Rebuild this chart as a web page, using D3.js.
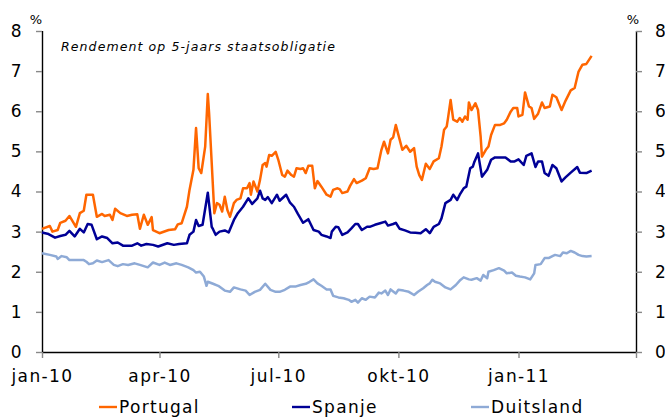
<!DOCTYPE html>
<html lang="nl">
<head>
<meta charset="utf-8">
<title>Rendement op 5-jaars staatsobligatie</title>
<script src="https://d3js.org/d3.v7.min.js"></script>
<style>
  body { margin: 0; background: #fff; }
  svg text { font-family: "DejaVu Sans", Verdana, sans-serif; fill: #000; }
  .tick text { font-size: 17px; letter-spacing: 1.4px; }
  .legend text { font-size: 17px; letter-spacing: 1.3px; }
</style>
</head>
<body>
<svg id="chart" width="665" height="418"></svg>
<script>
// dagen sinds 1 jan 2010, rendement in %
var portugalDag = [0,6,8,12,14,18,21,26,29,32,34,39,42,46,48,52,54,56,60,65,69,73,75,78,81,84,85,90,97,102,104,107,111,113,116,118,120,122,125,127,128,130,132,134,136,138,140,142,144,147,149,152,154,157,159,160,162,165,167,169,171,172,174,176,179,181,184,186,188,191,193,195,198,200,202,204,207,209,211,214,218,221,223,226,228,230,234,236,239,241,245,248,251,254,257,260,262,265,267,269,271,273,276,279,282,285,287,289,291,294,297,300,304,306,308,310,311,313,315,318,320,322,324,326,327,329,332,334,336,337,340,342,344,347,351,354,356,359,361,364,365,368,370,373,375,377,380,383,385,389,391,394,398,401,405,408,411,414,417,421];
var portugalRente = [3.07,3.14,3.0,3.04,3.22,3.27,3.39,3.12,3.46,3.52,3.92,3.92,3.37,3.44,3.39,3.42,3.29,3.57,3.46,3.39,3.42,3.43,3.07,3.42,3.17,3.36,3.04,2.96,3.04,3.06,3.18,3.21,3.62,4.04,4.54,5.58,4.58,4.46,5.12,6.43,5.95,4.71,3.46,3.71,3.67,3.5,3.87,3.54,3.37,3.71,3.79,3.83,4.08,4.08,4.21,3.92,4.25,4.0,4.29,4.66,4.71,4.62,4.91,4.89,4.99,4.79,4.41,4.37,4.52,4.41,4.37,4.58,4.56,4.58,4.46,4.64,4.64,4.08,4.26,4.12,3.92,3.87,4.04,4.08,4.06,3.96,4.0,4.14,4.31,4.21,4.27,4.33,4.58,4.56,4.58,5.04,5.24,4.95,5.29,5.35,5.66,5.41,5.04,5.14,4.99,5.08,4.62,4.41,4.29,4.69,4.56,4.75,4.83,5.12,5.54,5.62,5.83,6.28,5.79,5.74,5.83,5.74,5.87,5.79,6.22,6.03,6.2,6.03,5.37,4.87,5.04,5.12,5.41,5.66,5.66,5.7,5.79,5.99,6.08,6.08,5.87,5.91,6.47,6.12,6.08,5.81,5.94,6.22,6.08,6.12,6.41,6.35,6.03,6.26,6.52,6.58,6.99,7.16,7.18,7.38];

var spanjeDag = [0,5,10,14,18,21,25,29,32,35,38,42,46,50,54,58,62,69,73,76,80,85,89,96,101,105,111,113,116,118,120,123,127,130,131,133,136,140,143,147,150,154,158,161,165,167,169,171,173,176,180,182,187,190,193,196,200,204,208,212,214,218,221,222,225,227,230,234,237,240,242,245,249,251,255,259,263,265,269,271,274,278,282,286,290,294,297,300,304,306,309,313,315,318,320,323,325,328,330,331,334,337,341,344,347,351,355,359,362,365,369,371,375,378,380,383,385,388,391,394,398,401,405,410,412,417,421];
var spanjeRente = [2.98,2.94,2.85,2.89,2.92,3.02,2.88,3.07,2.98,3.19,3.17,2.81,2.88,2.84,2.71,2.73,2.65,2.65,2.71,2.65,2.69,2.67,2.63,2.71,2.67,2.69,2.71,2.92,3.0,3.29,3.14,3.17,3.97,3.12,3.06,2.92,3.0,3.03,2.98,3.29,3.46,3.62,3.83,3.69,3.83,4.02,3.83,3.79,3.86,3.71,3.92,3.77,3.92,3.72,3.62,3.44,3.22,3.31,3.04,3.0,2.92,2.88,2.84,3.0,3.12,3.11,2.92,2.98,3.08,3.19,3.19,3.04,3.12,3.12,3.17,3.21,3.25,3.15,3.19,3.22,3.07,3.03,2.98,2.97,2.96,3.06,2.96,3.12,3.19,3.33,3.71,3.79,3.92,3.79,3.92,4.08,4.12,4.58,4.62,4.72,4.95,4.37,4.54,4.79,4.85,4.85,4.85,4.75,4.75,4.8,4.66,4.89,4.95,4.61,4.75,4.75,4.46,4.39,4.66,4.58,4.25,4.35,4.47,4.61,4.47,4.46,4.52];

var duitslandDag = [0,6,11,12,15,19,21,27,32,34,36,39,42,46,51,55,58,62,66,71,75,81,85,90,94,98,103,107,112,116,118,121,124,126,127,131,135,140,144,147,152,156,159,163,167,171,175,179,182,186,190,194,198,202,205,208,211,214,218,221,223,227,231,235,237,240,242,245,248,251,255,258,260,263,265,267,271,273,277,281,285,288,292,295,297,299,301,305,309,313,317,320,323,327,329,333,336,338,341,342,346,350,354,356,360,363,366,370,374,377,378,382,385,388,391,393,397,399,402,405,408,411,414,417,421];
var duitslandRente = [2.46,2.42,2.38,2.32,2.39,2.36,2.29,2.29,2.29,2.25,2.19,2.21,2.28,2.24,2.29,2.17,2.14,2.19,2.17,2.21,2.17,2.11,2.23,2.17,2.23,2.17,2.21,2.17,2.11,2.04,1.98,2.0,1.88,1.65,1.75,1.7,1.65,1.53,1.5,1.61,1.56,1.53,1.42,1.5,1.55,1.7,1.55,1.5,1.5,1.55,1.63,1.63,1.67,1.7,1.75,1.81,1.71,1.65,1.56,1.56,1.4,1.36,1.34,1.3,1.25,1.3,1.23,1.34,1.3,1.38,1.36,1.48,1.46,1.53,1.42,1.56,1.46,1.55,1.53,1.5,1.42,1.5,1.59,1.67,1.71,1.8,1.75,1.71,1.61,1.56,1.67,1.78,1.86,1.81,1.8,1.84,1.78,1.92,1.84,2.0,2.04,2.09,2.03,1.96,1.98,1.9,1.88,1.86,1.81,1.96,2.17,2.19,2.34,2.34,2.39,2.42,2.39,2.48,2.46,2.52,2.48,2.42,2.39,2.38,2.39];

var landen = ["Portugal", "Spanje", "Duitsland"];
var kleuren = ["#ff6600", "#000096", "#8eaad6"];
var maandLabels = ["jan-10", "apr-10", "jul-10", "okt-10", "jan-11", ""];
var yTicks = [0, 1, 2, 3, 4, 5, 6, 7, 8];

var start = new Date(2010, 0, 1);
function reeks(dagen, rente) {
  return dagen.map(function(d, i) {
    return { datum: d3.timeDay.offset(start, d), waarde: rente[i] };
  });
}
var series = [
  reeks(portugalDag, portugalRente),
  reeks(spanjeDag, spanjeRente),
  reeks(duitslandDag, duitslandRente)
];

var svg = d3.select("#chart");
var plotL = 42, plotR = 636, plotT = 31, plotB = 352;

var x = d3.scaleTime()
  .domain([start, new Date(2011, 3, 1)])
  .range([plotL, plotR]);
var y = d3.scaleLinear()
  .domain([0, 8])
  .range([plotB, plotT]);

var kwartalen = d3.timeMonth.every(3).range(start, new Date(2011, 3, 2));

// x as
var xAs = svg.append("g")
  .attr("transform", "translate(0," + plotB + ")")
  .call(d3.axisBottom(x).tickValues(kwartalen).tickSize(6).tickPadding(12)
    .tickFormat(function(d, i) { return maandLabels[i]; }));

// linker as
var yLinks = svg.append("g")
  .attr("transform", "translate(" + plotL + ",0)")
  .call(d3.axisLeft(y).tickValues(yTicks).tickSize(6).tickPadding(13).tickFormat(d3.format("d")));

// rechter as (labels lopen net als in het origineel tot de rand)
var yRechts = svg.append("g")
  .attr("transform", "translate(" + plotR + ",0)")
  .call(d3.axisRight(y).tickValues(yTicks).tickSize(6).tickPadding(13).tickFormat(d3.format("d")));

[xAs, yLinks, yRechts].forEach(function(g) {
  g.select(".domain").attr("stroke", "#000").attr("stroke-width", 1.4);
  g.selectAll(".tick line").attr("stroke", "#888").attr("stroke-width", 1.4);
  g.selectAll(".tick text").attr("fill", "#000");
});
yLinks.select(".domain").attr("d", "M0.5," + plotT + "V" + plotB);
yRechts.select(".domain").attr("d", "M0.5," + plotT + "V" + plotB);
xAs.select(".domain").attr("d", "M" + plotL + ",0.5H" + plotR);

// lijnen
var lijn = d3.line()
  .x(function(d) { return x(d.datum); })
  .y(function(d) { return y(d.waarde); });

svg.selectAll(".serie")
  .data(series)
  .enter()
  .append("path")
  .attr("class", "serie")
  .attr("d", lijn)
  .attr("fill", "none")
  .attr("stroke", function(d, i) { return kleuren[i]; })
  .attr("stroke-width", 2.5)
  .attr("stroke-linejoin", "round");

// eenheden en titel
svg.append("text").attr("x", 36).attr("y", 24).attr("text-anchor", "middle")
  .style("font-size", "13px").text("%");
svg.append("text").attr("x", 633).attr("y", 24).attr("text-anchor", "middle")
  .style("font-size", "13px").text("%");
svg.append("text").attr("x", 61).attr("y", 51)
  .style("font-size", "12.5px").style("font-style", "italic").style("letter-spacing", "1.1px")
  .text("Rendement op 5-jaars staatsobligatie");

// legenda
var legendaX = [99, 292, 471];
var legenda = svg.append("g").attr("class", "legend")
  .selectAll("g")
  .data(landen)
  .enter()
  .append("g")
  .attr("transform", function(d, i) { return "translate(" + legendaX[i] + ",407)"; });
legenda.append("line")
  .attr("x1", 0).attr("x2", 18)
  .attr("stroke", function(d, i) { return kleuren[i]; })
  .attr("stroke-width", 2.4);
legenda.append("text")
  .attr("x", 20).attr("y", 6)
  .text(function(d) { return d; });
</script>
</body>
</html>
